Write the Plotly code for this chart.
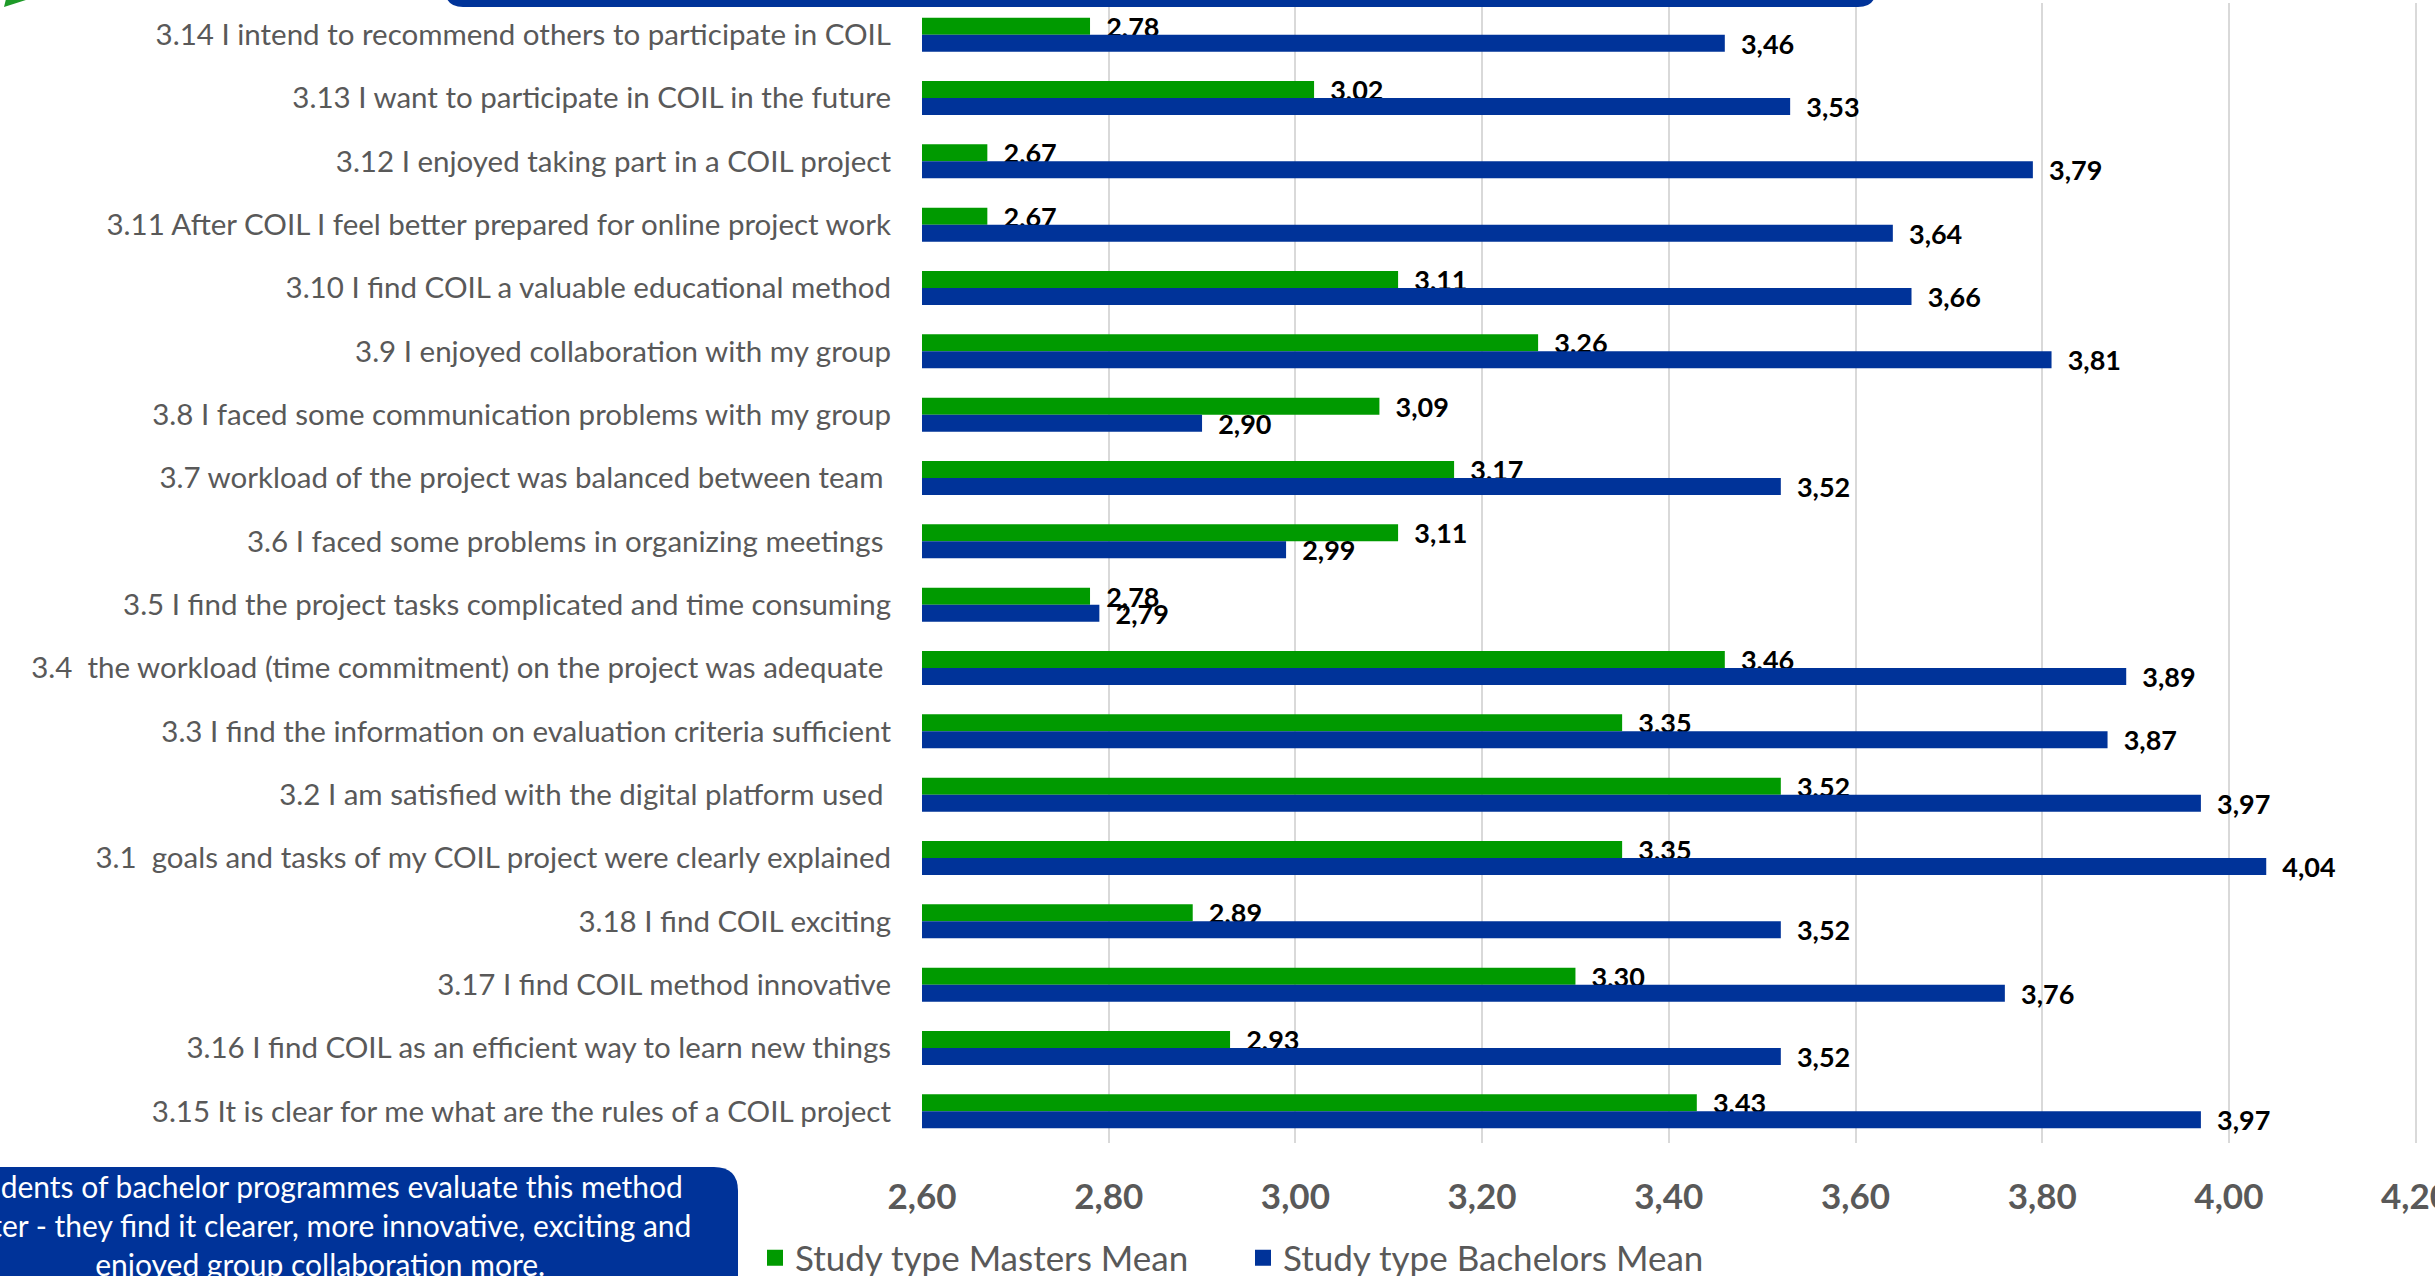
import plotly.graph_objects as go

# ---- data (top-to-bottom order as displayed) ----
categories = [
    "3.14 I intend to recommend others to participate in COIL",
    "3.13 I want to participate in COIL in the future",
    "3.12 I enjoyed taking part in a COIL project",
    "3.11 After COIL I feel better prepared for online project work",
    "3.10 I find COIL a valuable educational method",
    "3.9 I enjoyed collaboration with my group",
    "3.8 I faced some communication problems with my group",
    "3.7 workload of the project was balanced between team ",
    "3.6 I faced some problems in organizing meetings ",
    "3.5 I find the project tasks complicated and time consuming",
    "3.4  the workload (time commitment) on the project was adequate ",
    "3.3 I find the information on evaluation criteria sufficient",
    "3.2 I am satisfied with the digital platform used ",
    "3.1  goals and tasks of my COIL project were clearly explained",
    "3.18 I find COIL exciting",
    "3.17 I find COIL method innovative",
    "3.16 I find COIL as an efficient way to learn new things",
    "3.15 It is clear for me what are the rules of a COIL project",
]
masters_mean = [2.78, 3.02, 2.67, 2.67, 3.11, 3.26, 3.09, 3.17, 3.11, 2.78,
                3.46, 3.35, 3.52, 3.35, 2.89, 3.30, 2.93, 3.43]
bachelors_mean = [3.46, 3.53, 3.79, 3.64, 3.66, 3.81, 2.90, 3.52, 2.99, 2.79,
                  3.89, 3.87, 3.97, 4.04, 3.52, 3.76, 3.52, 3.97]
series_names = ["Study type Masters Mean", "Study type Bachelors Mean"]
x_ticks = [2.60, 2.80, 3.00, 3.20, 3.40, 3.60, 3.80, 4.00, 4.20]
note_lines = [
    "Students of bachelor programmes evaluate this method",
    "better - they find it clearer, more innovative, exciting and",
    "enjoyed group collaboration more.",
]

GREEN = "#009A00"
BLUE = "#003399"
GRAY = "#595959"
FONT = "Lato"

W, H = 2435, 1276
L, R, T, B = 922, 0, 3, 133
PW, PH = W - L - R, H - T - B
x0 = 2.6
units_per_px = 0.2 / 186.7
x1 = x0 + PW * units_per_px

fig = go.Figure()
for name, vals, col in [(series_names[0], masters_mean, GREEN),
                        (series_names[1], bachelors_mean, BLUE)]:
    fig.add_trace(go.Bar(
        y=categories, x=vals, orientation="h", name=name,
        marker=dict(color=col, line=dict(width=0)),
        texttemplate="\u00a0\u00a0%{x:.2f}", textposition="outside",
        constraintext="none", cliponaxis=False,
        textfont=dict(family=FONT, size=27, color="black", weight="bold"),
        showlegend=False,
    ))
# legend entries (larger square swatches)
for name, col in [(series_names[0], GREEN), (series_names[1], BLUE)]:
    fig.add_trace(go.Scatter(
        x=[None], y=[None], mode="markers", name=name,
        marker=dict(symbol="square", size=20, color=col),
        showlegend=True, hoverinfo="skip",
    ))


def to_paper(X, Y):
    return (X - L) / PW, (H - B - Y) / PH


def rrect_path(xa, ya, xb, yb, r):
    pts = [
        ("M", [(xa + r, ya)]), ("L", [(xb - r, ya)]), ("Q", [(xb, ya), (xb, ya + r)]),
        ("L", [(xb, yb - r)]), ("Q", [(xb, yb), (xb - r, yb)]),
        ("L", [(xa + r, yb)]), ("Q", [(xa, yb), (xa, yb - r)]),
        ("L", [(xa, ya + r)]), ("Q", [(xa, ya), (xa + r, ya)]),
    ]
    s = ""
    for cmd, ps in pts:
        s += cmd + " " + " ".join("%.5f,%.5f" % to_paper(px, py) for px, py in ps) + " "
    return s + "Z"


shapes = [
    dict(type="path", xref="paper", yref="paper", path=rrect_path(445, -60, 1876, 7, 18),
         fillcolor=BLUE, line=dict(width=0), layer="above"),
    dict(type="path", xref="paper", yref="paper", path=rrect_path(-98, 1167, 738, 1330, 24),
         fillcolor=BLUE, line=dict(width=0), layer="above"),
    dict(type="path", xref="paper", yref="paper",
         path="M %.5f,%.5f L %.5f,%.5f L %.5f,%.5f Z" % (*to_paper(4, 7), *to_paper(29, -1), *to_paper(6, -1)),
         fillcolor="#1E9A28", line=dict(width=0), layer="above"),
]

cx, cy = to_paper(320, 1225)
annotations = [dict(
    xref="paper", yref="paper", x=cx, y=cy, xanchor="center", yanchor="middle",
    text="<br>".join(note_lines), showarrow=False, align="center",
    font=dict(family=FONT, size=30, color="white"),
)]

fig.update_layout(
    width=W, height=H,
    margin=dict(l=L, r=R, t=T, b=B, pad=0, autoexpand=False),
    paper_bgcolor="white", plot_bgcolor="white",
    barmode="group", bargap=0.463, bargroupgap=0,
    separators=",.",
    font=dict(family=FONT, color=GRAY),
    showlegend=True,
    legend=dict(orientation="h", xref="container", yref="container",
                x=755 / W, y=1 - 1258 / H, xanchor="left", yanchor="middle",
                font=dict(family=FONT, size=35, color=GRAY),
                itemsizing="trace",
                entrywidth=443, entrywidthmode="pixels", traceorder="normal",
                bgcolor="rgba(0,0,0,0)"),
    shapes=shapes, annotations=annotations,
    xaxis=dict(range=[x0, x1], tickvals=x_ticks, tickformat=".2f",
               showgrid=True, gridcolor="#D9D9D9", gridwidth=2, zeroline=False,
               showline=False, ticks="", ticklabelstandoff=30, automargin=False,
               ticklabeloverflow="allow",
               tickfont=dict(family=FONT, size=35, color=GRAY, weight="bold")),
    yaxis=dict(type="category", autorange="reversed", showgrid=False, showline=False,
               ticks="", ticklabelstandoff=30, automargin=False,
               tickfont=dict(family=FONT, size=29.5, color=GRAY)),
)

fig.write_html("out.html", config={"displayModeBar": False},
               post_script="document.body.style.margin='0';document.body.style.overflow='hidden';")
